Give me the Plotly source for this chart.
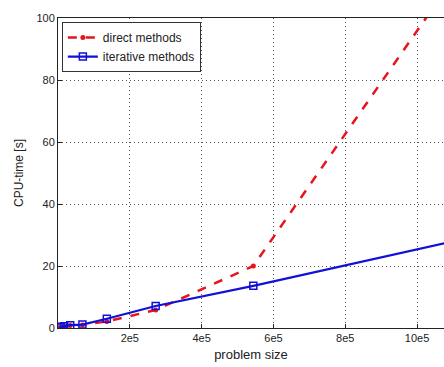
import plotly.graph_objects as go

problem_size = [4250, 8500, 17000, 34000, 68000, 136000, 272000, 544000, 1088000]
direct_cpu = [0.1, 0.2, 0.4, 0.8, 1.0, 2.1, 5.8, 20.0, 110.5]
iterative_cpu = [0.2, 0.4, 0.6, 0.9, 1.1, 3.0, 7.1, 13.6, 27.6]
x_tick_vals = [200000, 400000, 600000, 800000, 1000000]
x_tick_text = ["2e5", "4e5", "6e5", "8e5", "10e5"]
y_tick_vals = [0, 20, 40, 60, 80, 100]

fig = go.Figure()
fig.add_trace(go.Scatter(
    x=problem_size, y=direct_cpu, name="direct methods", mode="lines+markers",
    line=dict(color="#e8141c", width=2.5, dash="dash"),
    marker=dict(symbol="circle", size=5, color="#e8141c"),
))
fig.add_trace(go.Scatter(
    x=problem_size, y=iterative_cpu, name="iterative methods", mode="lines+markers",
    line=dict(color="#1010d8", width=2.2),
    marker=dict(symbol="square-open", size=7, color="#1010d8", line=dict(width=1.5)),
))

axis_font = dict(family="Liberation Sans, Arial, sans-serif", size=11, color="#222")
fig.update_layout(
    width=444, height=367,
    margin=dict(l=58, r=0, t=18, b=39),
    paper_bgcolor="white", plot_bgcolor="white",
    font=axis_font,
    showlegend=True,
    legend=dict(x=0.01, y=0.987, xanchor="left", yanchor="top",
                bordercolor="#333", borderwidth=1, bgcolor="white",
                font=dict(size=12), tracegroupgap=0, itemwidth=30),
    xaxis=dict(range=[0, 1075000], tickvals=x_tick_vals, ticktext=x_tick_text,
               showgrid=True, gridcolor="#555", griddash="1px,3px", gridwidth=1,
               showline=True, linecolor="#222", linewidth=1, mirror=True,
               ticks="inside", ticklen=4, tickcolor="#222", zeroline=False,
               title=dict(text="problem size", font=dict(size=13), standoff=6)),
    yaxis=dict(range=[0, 100], tickvals=y_tick_vals,
               showgrid=True, gridcolor="#555", griddash="1px,3px", gridwidth=1,
               showline=True, linecolor="#222", linewidth=1, mirror=False,
               ticks="inside", ticklen=4, tickcolor="#222", zeroline=False,
               title=dict(text="CPU-time [s]", font=dict(size=12), standoff=10)),
)
fig.write_html("out.html")
